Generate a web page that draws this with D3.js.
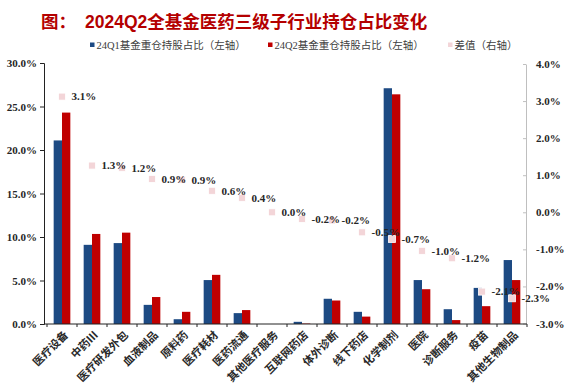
<!DOCTYPE html>
<html><head><meta charset="utf-8">
<script src="https://cdn.jsdelivr.net/npm/d3@7/dist/d3.min.js"></script>
<style>
html,body{margin:0;padding:0;background:#fff;}
svg{display:block;}
</style></head>
<body>
<svg id="chart" width="578" height="391"></svg>
<script>
const categories = ["医疗设备","中药Ⅲ","医疗研发外包","血液制品","原料药","医疗耗材","医药流通","其他医疗服务","互联网药店","体外诊断","线下药店","化学制剂","医院","诊断服务","疫苗","其他生物制品"];
const q1Values = [21.1, 9.1, 9.3, 2.2, 0.55, 5.05, 1.25, 0, 0.25, 2.9, 1.4, 27.1, 5.05, 1.7, 4.15, 7.35];
const q2Values = [24.3, 10.35, 10.5, 3.1, 1.4, 5.65, 1.6, 0, 0.05, 2.7, 0.85, 26.4, 4.0, 0.45, 2.05, 5.05];
const diffValues = [3.12, 1.26, 1.2, 0.9, 0.88, 0.58, 0.39, 0.0, -0.18, -0.22, -0.54, -0.72, -1.04, -1.24, -2.14, -2.32];
const leftTicks = [0, 5, 10, 15, 20, 25, 30];
const rightTicks = [-3, -2, -1, 0, 1, 2, 3, 4];
const seriesNames = ["24Q1基金重仓持股占比（左轴）", "24Q2基金重仓持股占比（左轴）", "差值（右轴）"];
const titlePrefix = "图：";
const titleText = "2024Q2全基金医药三级子行业持仓占比变化";

const BLUE = "#1d4a83", RED = "#c00000", PINK = "#f3d5d8";
const serif = "'Liberation Serif','Times New Roman','Noto Sans CJK SC',serif";
const cjk = "'Liberation Serif','Noto Sans CJK SC',sans-serif";
const loc = d3.formatLocale({decimal: ".", thousands: ",", grouping: [3], currency: ["", ""], minus: "-"});
const pct = d => loc.format(".1f")(d) + "%";

const svg = d3.select("#chart");
const plotL = 47, plotR = 527, plotT = 63, plotB = 324;

const x = d3.scaleBand().domain(categories).range([plotL, plotR]).padding(0);
const sub = d3.scaleBand().domain(["q1","q2"]).range([0, x.bandwidth()]).paddingInner(0).paddingOuter(0.8);
const yL = d3.scaleLinear().domain([0, 30]).range([plotB, plotT]);
const yR = d3.scaleLinear().domain([-3, 4]).range([plotB - 0.5, plotT + 1]);

// Title
svg.append("text").attr("x", 41).attr("y", 28)
  .attr("font-family", "'Noto Sans CJK SC',sans-serif").attr("font-weight", "bold")
  .attr("font-size", 17.5).attr("fill", "#b40000").text(titlePrefix);
svg.append("text").attr("x", 85).attr("y", 28)
  .attr("font-family", "'Liberation Sans','Noto Sans CJK SC',sans-serif").attr("font-weight", "bold")
  .attr("font-size", 17.5).attr("fill", "#b40000").text(titleText);

// Legend
const legendItems = [
  {name: seriesNames[0], color: BLUE, x: 90},
  {name: seriesNames[1], color: RED, x: 268},
  {name: seriesNames[2], color: PINK, x: 448}
];
const lg = svg.append("g");
legendItems.forEach(it => {
  lg.append("rect").attr("x", it.x).attr("y", 42.5).attr("width", 4.5).attr("height", 4.5).attr("fill", it.color);
  lg.append("text").attr("x", it.x + 6.5).attr("y", 45).attr("dy", "0.35em")
    .attr("font-family", cjk).attr("font-size", 10.5).attr("fill", "#404040").text(it.name);
});

// Bars
const rows = categories.map((c, i) => ({c, q1: q1Values[i], q2: q2Values[i], d: diffValues[i]}));
const bars = svg.append("g");
rows.forEach(r => {
  bars.append("rect").attr("x", x(r.c) + sub("q1")).attr("width", sub.bandwidth())
    .attr("y", yL(r.q1)).attr("height", yL(0) - yL(r.q1)).attr("fill", BLUE);
  bars.append("rect").attr("x", x(r.c) + sub("q2")).attr("width", sub.bandwidth())
    .attr("y", yL(r.q2)).attr("height", yL(0) - yL(r.q2)).attr("fill", RED);
});

// Left axis
const axL = svg.append("g").attr("transform", `translate(44,0)`)
  .call(d3.axisLeft(yL).tickValues(leftTicks).tickSize(4).tickPadding(3).tickFormat(pct));
axL.select(".domain").attr("stroke", "#222");
axL.selectAll(".tick line").attr("stroke", "#222");
axL.selectAll("text").attr("font-family", serif).attr("font-weight", "bold").attr("font-size", 11).attr("fill", "#262626");

// Right axis
const axR = svg.append("g").attr("transform", `translate(526,0)`)
  .call(d3.axisRight(yR).tickValues(rightTicks).tickSizeInner(-3).tickSizeOuter(0).tickPadding(10).tickFormat(pct));
axR.select(".domain").attr("stroke", "#bfbfbf");
axR.selectAll(".tick line").attr("stroke", "#bfbfbf");
axR.selectAll("text").attr("font-family", serif).attr("font-weight", "bold").attr("font-size", 11).attr("fill", "#262626");

// X axis
const axX = svg.append("g").attr("transform", `translate(0,${plotB})`)
  .call(d3.axisBottom(x).tickSize(0).tickFormat(""));
axX.select(".domain").attr("d", `M${44},0H${plotR}`).attr("stroke", "#222");
axX.selectAll(".tick").remove();
const boundaries = categories.map(c => x(c)).concat([x(categories[categories.length - 1]) + x.step()]);
axX.selectAll("line.bt").data(boundaries).join("line").attr("class", "bt")
  .attr("x1", d => d).attr("x2", d => d).attr("y1", 0).attr("y2", 3).attr("stroke", "#222");
axX.selectAll("text.xl").data(categories).join("text").attr("class", "xl")
  .attr("transform", d => `translate(${x(d) + x.bandwidth() / 2 + 4},${9}) rotate(-45)`)
  .attr("text-anchor", "end").attr("dy", "0.35em")
  .attr("font-family", cjk).attr("font-size", 11).attr("font-weight", "bold").attr("fill", "#2a2a2a")
  .text(d => d);

// Diff markers and labels
const mk = svg.append("g");
rows.forEach(r => {
  mk.append("rect").attr("x", x(r.c) + x.bandwidth() / 2 - 3.5).attr("y", yR(r.d) - 3.5)
    .attr("width", 7).attr("height", 7).attr("fill", PINK).attr("stroke", "#fff").attr("stroke-width", 0.8);
});
rows.forEach(r => {
  mk.append("text").attr("x", x(r.c) + x.bandwidth() / 2 + 9.5).attr("y", yR(r.d)).attr("dy", "0.35em")
    .attr("font-family", serif).attr("font-weight", "bold").attr("font-size", 11).attr("fill", "#262626")
    .text(pct(r.d));
});
</script>
</body></html>
